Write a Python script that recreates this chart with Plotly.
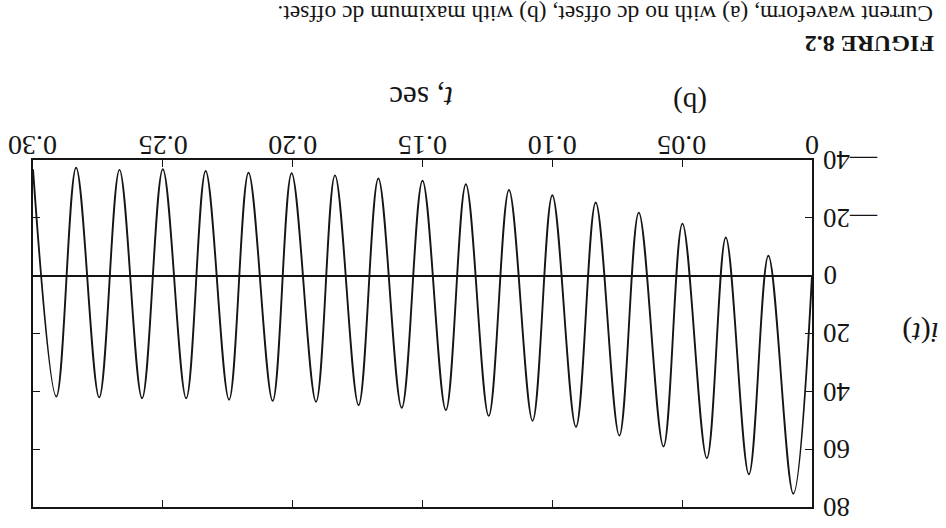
import plotly.graph_objects as go

# ---- data read from the (upside-down) scanned figure ----
# times (s) and values of the successive positive peaks of i(t)
t_max = [0.0072, 0.0243, 0.0405, 0.0572, 0.0742, 0.0909, 0.1076, 0.1245, 0.1410,
         0.1580, 0.1746, 0.1910, 0.2077, 0.2245, 0.2410, 0.2580, 0.2745, 0.2910]
i_max = [75.4, 68.7, 63.1, 59.1, 55.3, 52.3, 50.2, 48.5, 46.5,
         45.7, 44.8, 43.6, 43.3, 42.9, 42.4, 42.4, 42.1, 41.8]
# times (s) and values of the successive negative peaks of i(t)
t_min = [0.0168, 0.0332, 0.0499, 0.0667, 0.0833, 0.1000, 0.1167, 0.1333, 0.1500,
         0.1670, 0.1837, 0.2004, 0.2170, 0.2335, 0.2500, 0.2667, 0.2834, 0.3000]
i_min = [-6.9, -13.2, -18.0, -21.8, -25.3, -27.8, -29.6, -31.6, -32.8,
         -33.6, -34.7, -35.4, -35.6, -36.2, -36.8, -36.6, -37.3, -36.8]
t_start, i_start = 0.0, 0.0

x_ticks = [0, 0.05, 0.10, 0.15, 0.20, 0.25, 0.30]
x_labels = ["0", "0.05", "0.10", "0.15", "0.20", "0.25", "0.30"]
y_ticks = [-40, -20, 0, 20, 40, 60, 80]
y_labels = ["\u201440", "\u201420", "0", "20", "40", "60", "80"]

caption = "Current waveform, (a) with no dc offset, (b) with maximum dc offset."
fig_label = "FIGURE 8.2"
x_title = "<i>t</i>, sec"
y_title = "<i>i</i>(<i>t</i>)"
panel = "(b)"

# interleave peaks into one curve
t = [t_start]
i = [i_start]
for a, b, c, d in zip(t_max, i_max, t_min, i_min):
    t += [a, c]
    i += [b, d]

FONT = "Liberation Serif"
INK = "#151515"

fig = go.Figure()
fig.add_trace(go.Scatter(x=t, y=i, mode="lines",
                         line=dict(color=INK, width=1.9, shape="spline", smoothing=1.0),
                         hoverinfo="skip", showlegend=False))

W, H = 946, 528
L, R, T, B = 33, 134, 160, 21
pw, ph = W - L - R, H - T - B

def px_to_paper_x(px):
    return (px - L) / pw

def px_to_paper_y(py):
    return 1 - (py - T) / ph

ann = []
# x tick labels (rotated 180 deg, above the frame)
for v, s in zip(x_ticks, x_labels):
    ann.append(dict(x=v, xref="x", y=1, yref="paper", yshift=14, text=s,
                    textangle=180, showarrow=False, xanchor="center", yanchor="middle",
                    font=dict(family=FONT, size=28, color=INK)))
# y tick labels (rotated 180 deg, right of the frame)
for v, s in zip(y_ticks, y_labels):
    ann.append(dict(x=1, xref="paper", xshift=9, y=v, yref="y", text=s,
                    textangle=180, showarrow=False, xanchor="left", yanchor="middle",
                    font=dict(family=FONT, size=27, color=INK)))
# titles & caption
ann.append(dict(x=px_to_paper_x(421), y=px_to_paper_y(97), xref="paper", yref="paper",
                text=x_title, textangle=180, showarrow=False, xanchor="center", yanchor="middle",
                font=dict(family=FONT, size=31, color=INK)))
ann.append(dict(x=px_to_paper_x(690), y=px_to_paper_y(102), xref="paper", yref="paper",
                text=panel, textangle=180, showarrow=False, xanchor="center", yanchor="middle",
                font=dict(family=FONT, size=29, color=INK)))
ann.append(dict(x=px_to_paper_x(921), y=px_to_paper_y(333), xref="paper", yref="paper",
                text=y_title, textangle=180, showarrow=False, xanchor="center", yanchor="middle",
                font=dict(family=FONT, size=30, color=INK)))
ann.append(dict(x=px_to_paper_x(936), y=px_to_paper_y(44), xref="paper", yref="paper",
                text="<b>" + fig_label + "</b>", textangle=180, showarrow=False,
                xanchor="right", yanchor="middle",
                font=dict(family=FONT, size=24, color=INK)))
ann.append(dict(x=px_to_paper_x(935), y=px_to_paper_y(14), xref="paper", yref="paper",
                text=caption, textangle=180, showarrow=False,
                xanchor="right", yanchor="middle",
                font=dict(family=FONT, size=23.5, color=INK)))

fig.update_layout(
    width=W, height=H,
    margin=dict(l=L, r=R, t=T, b=B, pad=0),
    paper_bgcolor="white", plot_bgcolor="white",
    annotations=ann,
    showlegend=False,
    xaxis=dict(range=[0.30, 0.0], tickvals=x_ticks, showticklabels=False,
               ticks="inside", ticklen=7, tickwidth=1.3, tickcolor=INK,
               showline=True, linecolor=INK, linewidth=1.6, mirror="ticks",
               showgrid=False, zeroline=False, fixedrange=True),
    yaxis=dict(range=[80, -40], tickvals=y_ticks, showticklabels=False,
               ticks="inside", ticklen=7, tickwidth=1.3, tickcolor=INK,
               showline=True, linecolor=INK, linewidth=1.6, mirror="ticks",
               showgrid=False, zeroline=True, zerolinecolor=INK, zerolinewidth=1.8,
               fixedrange=True),
)

fig.write_html("out.html")
